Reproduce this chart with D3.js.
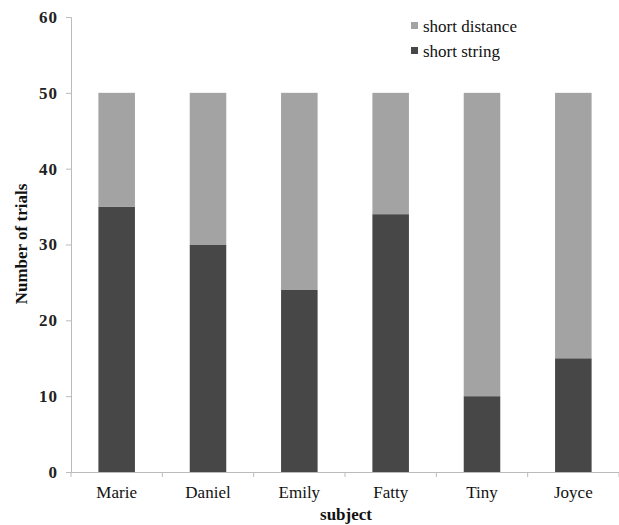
<!DOCTYPE html>
<html><head><meta charset="utf-8">
<script src="https://cdn.jsdelivr.net/npm/d3@7"></script>
<style>body{margin:0;background:#fff}svg{display:block}</style>
</head><body>
<script>
const subjects = ["Marie","Daniel","Emily","Fatty","Tiny","Joyce"];
const shortString = [35,30,24,34,10,15];
const shortDistance = [15,20,26,16,40,35];
const yTicks = [0,10,20,30,40,50,60];
const seriesNames = ["short string","short distance"];
const colors = ["#474747","#a3a3a3"];
const FONT = "'Liberation Serif','Times New Roman',serif";

const W=619,H=525;
const svg=d3.select("body").append("svg").attr("width",W).attr("height",H)
 .attr("font-family",FONT);
const x=d3.scaleBand().domain(subjects).range([71,619]).paddingInner(0.6).paddingOuter(0.3);
const y=d3.scaleLinear().domain([0,60]).range([472,17]);

const data=subjects.map((s,i)=>({subject:s,"short string":shortString[i],"short distance":shortDistance[i]}));
const stacked=d3.stack().keys(seriesNames)(data);
svg.append("g").selectAll("g").data(stacked).join("g").attr("fill",(d,i)=>colors[i])
 .selectAll("rect").data(d=>d).join("rect")
 .attr("x",d=>x(d.data.subject)).attr("width",x.bandwidth())
 .attr("y",d=>y(d[1])).attr("height",d=>y(d[0])-y(d[1]));

// y axis
const ya=svg.append("g").attr("transform","translate(71,0)")
 .call(d3.axisLeft(y).tickValues(yTicks).tickSize(5).tickPadding(8))
 .attr("font-family",FONT);
ya.select(".domain").attr("stroke","#bbb");
ya.selectAll(".tick line").attr("stroke","#bbb");
ya.selectAll(".tick text").attr("font-family",FONT).attr("font-size",17).attr("font-weight","bold").attr("letter-spacing",1).attr("fill","#222");

// x axis
const xa=svg.append("g").attr("transform","translate(0,472)")
 .call(d3.axisBottom(x).tickSize(0).tickPadding(14))
 .attr("font-family",FONT);
xa.select(".domain").attr("stroke","#bbb");
xa.selectAll(".tick text").attr("font-family",FONT).attr("font-size",17).attr("fill","#111");
const bounds=d3.range(subjects.length+1).map(i=>71+i*(548/subjects.length));
xa.selectAll(".sep").data(bounds).join("line").attr("class","sep")
 .attr("x1",d=>d).attr("x2",d=>d).attr("y1",0).attr("y2",5).attr("stroke","#bbb");

svg.append("text").attr("x",346).attr("y",520).attr("text-anchor","middle")
 .attr("font-family",FONT).attr("font-size",17).attr("font-weight","bold").attr("fill","#111").text("subject");
svg.append("text").attr("transform","translate(27,244) rotate(-90)").attr("text-anchor","middle")
 .attr("font-family",FONT).attr("font-size",17).attr("font-weight","bold").attr("fill","#111").text("Number of trials");

// legend
const leg=[{name:"short distance",c:colors[1],y:22},{name:"short string",c:colors[0],y:47}];
const lg=svg.append("g");
lg.selectAll("rect").data(leg).join("rect").attr("x",411).attr("y",d=>d.y).attr("width",7).attr("height",7).attr("fill",d=>d.c);
lg.selectAll("text").data(leg).join("text").attr("x",423).attr("y",d=>d.y+10)
 .attr("font-family",FONT).attr("font-size",17).attr("fill","#111").text(d=>d.name);
</script>
</body></html>
